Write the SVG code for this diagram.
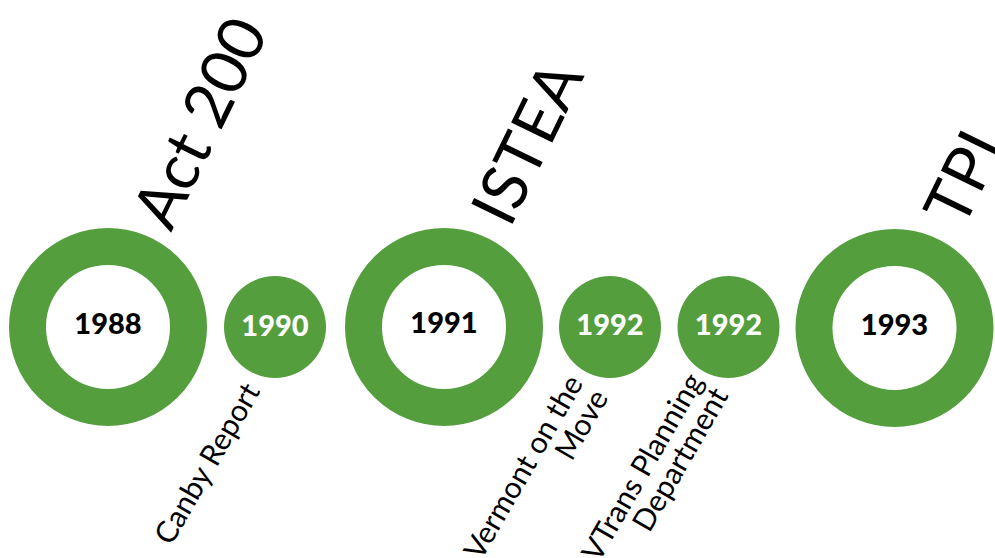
<svg xmlns="http://www.w3.org/2000/svg" width="995" height="558" viewBox="0 0 995 558">
<style>
.ring{fill:none;stroke:#549E3E;stroke-width:37}
.dot{fill:#549E3E}
.yr{font-family:Lato,"Open Sans","Liberation Sans",sans-serif;font-weight:900;font-size:29px;text-anchor:middle}
.yb{fill:#000}
.yw{fill:#fff}
.big{font-family:Lato,"Open Sans","Liberation Sans",sans-serif;font-size:64px;fill:#000}
.lbl{font-family:Lato,"Open Sans","Liberation Sans",sans-serif;font-size:30px;fill:#000}
</style>
<rect width="995" height="558" fill="#fff"/>
<g id="connectors"></g>
<g id="n1988">
<circle class="ring" cx="108" cy="327" r="80.5"/>
<text class="yr yb" x="108" y="334">1988</text>
<text class="big" transform="translate(171,233) rotate(-64)">Act 200</text>
</g>
<g id="n1990">
<circle class="dot" cx="275" cy="327" r="51"/>
<text class="yr yw" x="275" y="336">1990</text>
<text class="lbl" text-anchor="end" transform="translate(261,391) rotate(-60)">Canby Report</text>
</g>
<g id="n1991">
<circle class="ring" cx="444" cy="327" r="80.5"/>
<text class="yr yb" x="444" y="333">1991</text>
<text class="big" transform="translate(510,229) rotate(-64)">ISTEA</text>
</g>
<g id="n1992a">
<circle class="dot" cx="610" cy="327" r="51"/>
<text class="yr yw" x="610" y="335">1992</text>
<text class="lbl" text-anchor="end" transform="translate(584,383) rotate(-60)"><tspan x="0" y="0">Vermont on the</tspan><tspan x="0" y="29">Move</tspan></text>
</g>
<g id="n1992b">
<circle class="dot" cx="728.5" cy="327" r="51"/>
<text class="yr yw" x="728.5" y="335">1992</text>
<text class="lbl" text-anchor="end" transform="translate(704,381) rotate(-60)"><tspan x="0" y="0">VTrans Planning</tspan><tspan x="0" y="29">Department</tspan></text>
</g>
<g id="n1993">
<circle class="ring" cx="894.5" cy="328" r="80.5"/>
<text class="yr yb" x="894.5" y="335">1993</text>
<text class="big" transform="translate(963,230) rotate(-64)">TPI</text>
</g>
</svg>
